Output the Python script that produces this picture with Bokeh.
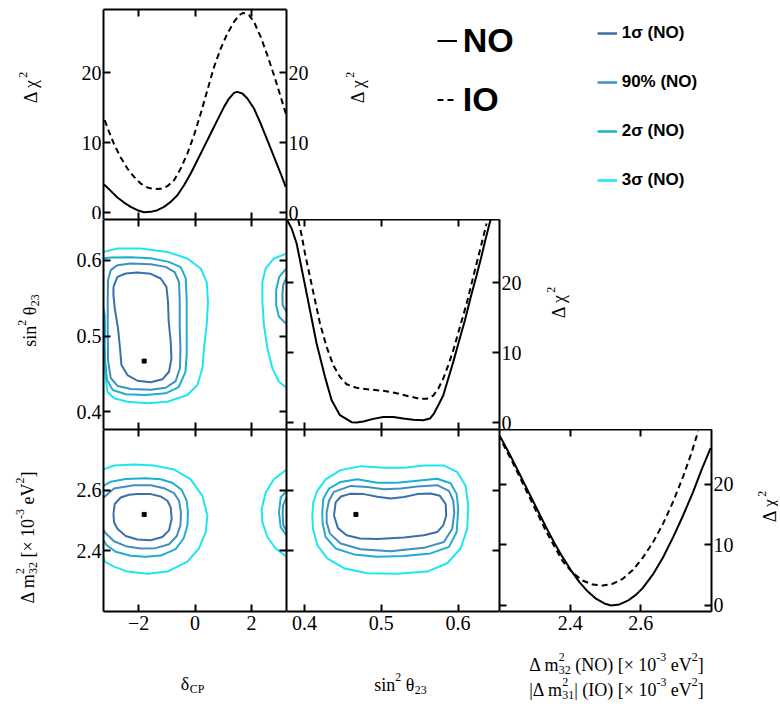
import math
from bokeh.plotting import figure
from bokeh.models import Range1d, LinearAxis, FixedTicker, Label, Legend, LegendItem
from bokeh.layouts import column, row
from bokeh.embed import file_html
from bokeh.resources import INLINE

# ---------------- data ----------------
# 1D: delta_CP profile
dcp_no_x = [-3.220, -2.984, -2.748, -2.512, -2.276, -2.040, -1.804, -1.568, -1.332, -1.096, -0.860, -0.624, -0.388, -0.152, 0.084,
            0.320, 0.556, 0.792, 1.028, 1.205, 1.382, 1.500, 1.677, 1.854, 2.090, 2.326, 2.562, 2.798, 3.034, 3.211]
dcp_no_y = [4.00, 3.09, 2.14, 1.42, 0.80, 0.33, 0.04, 0.09, 0.33, 0.80, 1.52, 2.47, 3.90, 5.57, 7.47,
            9.38, 11.28, 13.19, 15.09, 16.28, 17.09, 17.23, 17.00, 16.28, 14.85, 12.71, 10.33, 7.95, 5.57, 3.66]
dcp_io_x = [-3.196, -3.043, -2.866, -2.630, -2.394, -2.158, -1.922, -1.686, -1.450, -1.214, -0.978, -0.742, -0.506, -0.270, -0.034,
            0.202, 0.438, 0.674, 0.910, 1.146, 1.382, 1.559, 1.712, 1.913, 2.090, 2.326, 2.562, 2.798, 3.034, 3.234]
dcp_io_y = [13.19, 11.52, 9.76, 7.85, 6.28, 5.09, 4.14, 3.57, 3.33, 3.38, 3.76, 4.61, 6.28, 8.42, 11.04,
            14.14, 17.47, 20.80, 23.42, 25.57, 27.23, 28.19, 28.52, 28.19, 27.23, 25.09, 22.47, 19.61, 16.52, 13.90]

# 1D: sin^2 theta23 profile
s23_no_x = [0.3776, 0.3833, 0.3898, 0.3985, 0.4072, 0.4158, 0.4267, 0.4354, 0.4462, 0.4614, 0.4679, 0.4766, 0.4896, 0.5026, 0.5157,
            0.5287, 0.5417, 0.5547, 0.5634, 0.5686, 0.5743, 0.5808, 0.5873, 0.5938, 0.6012, 0.6090, 0.6164, 0.6242, 0.6298, 0.6350, 0.6424]
s23_no_y = [28.90, 27.71, 25.57, 20.80, 16.04, 11.28, 6.52, 3.19, 1.04, 0.04, 0.00, 0.14, 0.52, 0.80, 0.80,
            0.57, 0.38, 0.33, 0.57, 1.28, 2.47, 3.90, 6.28, 8.66, 11.61, 14.61, 17.85, 21.04, 23.42, 25.81, 28.99]
s23_io_x = [0.3920, 0.3963, 0.4007, 0.4072, 0.4137, 0.4202, 0.4289, 0.4375, 0.4462, 0.4549, 0.4679, 0.4853, 0.5026, 0.5200,
            0.5374, 0.5504, 0.5591, 0.5677, 0.5743, 0.5808, 0.5873, 0.5938, 0.6025, 0.6112, 0.6198, 0.6285, 0.6372]
s23_io_y = [28.90, 26.76, 24.14, 20.80, 17.47, 14.14, 10.80, 8.19, 6.52, 5.47, 4.95, 4.71, 4.52, 4.19,
            3.71, 3.38, 3.38, 3.85, 4.85, 6.28, 8.19, 10.33, 13.66, 16.99, 20.80, 24.61, 28.42]

# 1D: Delta m^2 profile
dm_no_x = [2.1961, 2.2170, 2.2359, 2.2597, 2.2834, 2.3071, 2.3308, 2.3545, 2.3782, 2.4019, 2.4256, 2.4493, 2.4730, 2.4967, 2.5157,
           2.5394, 2.5631, 2.5868, 2.6058, 2.6342, 2.6627, 2.6911, 2.7196, 2.7480, 2.7718, 2.7974]
dm_no_y = [28.44, 26.22, 24.11, 21.33, 18.56, 15.78, 13.00, 10.39, 8.00, 5.83, 3.89, 2.33, 1.11, 0.33, 0.00,
           0.17, 0.78, 1.78, 2.89, 5.11, 7.89, 11.22, 14.83, 18.72, 22.33, 25.94]
dm_io_x = [2.1961, 2.2359, 2.2834, 2.3308, 2.3782, 2.4066, 2.4351, 2.4635, 2.4920, 2.5204, 2.5489, 2.5773, 2.6058, 2.6342,
           2.6627, 2.6911, 2.7196, 2.7433, 2.7623]
dm_io_y = [28.17, 23.72, 18.00, 12.33, 7.33, 5.39, 4.11, 3.44, 3.28, 3.56, 4.39, 5.83, 7.89, 10.39,
           13.44, 17.06, 21.22, 25.11, 28.72]

# 2D: sin^2 theta23 vs delta_CP (NO)
ml_1s_d = [-2.888, -2.747, -2.453, -2.039, -1.568, -1.214, -1.012, -0.956, -0.931, -0.860, -0.835, -0.920, -1.154, -1.568, -2.039,
           -2.393, -2.605, -2.655, -2.726, -2.842, -2.888]
ml_1s_s = [0.5650, 0.5782, 0.5827, 0.5840, 0.5822, 0.5761, 0.5650, 0.5453, 0.5189, 0.4925, 0.4706, 0.4529, 0.4429, 0.4389, 0.4410,
           0.4485, 0.4617, 0.4838, 0.5102, 0.5365, 0.5541]
ml_90_d = [-3.080, -2.984, -2.747, -2.276, -1.568, -1.037, -0.719, -0.566, -0.542, -0.542, -0.517, -0.531, -0.683, -1.037, -1.568,
           -2.276, -2.736, -2.984, -3.080, -3.090, -3.090]
ml_90_s = [0.5739, 0.5871, 0.5937, 0.5959, 0.5950, 0.5914, 0.5844, 0.5712, 0.5475, 0.5145, 0.4815, 0.4578, 0.4406, 0.4318, 0.4292,
           0.4301, 0.4340, 0.4446, 0.4683, 0.5079, 0.5475]
ml_2s_d = [-3.242, -2.984, -2.276, -1.568, -0.931, -0.506, -0.329, -0.294, -0.294, -0.294, -0.340, -0.577, -1.037, -1.745, -2.453,
           -2.913, -3.115, -3.186, -3.197, -3.186, -3.197, -3.242]
ml_2s_s = [0.6025, 0.6038, 0.6042, 0.6029, 0.5980, 0.5910, 0.5765, 0.5475, 0.5079, 0.4749, 0.4525, 0.4327, 0.4244, 0.4222, 0.4231,
           0.4288, 0.4420, 0.4683, 0.4881, 0.5079, 0.5277, 0.5369]
ml_3s_d = [-3.242, -2.747, -1.922, -0.977, -0.269, 0.202, 0.414, 0.460, 0.414, 0.319, 0.262, 0.085, -0.269, -0.977, -1.685,
           -2.393, -2.867, -3.101, -3.172, -3.196, -3.242]
ml_3s_s = [0.6112, 0.6157, 0.6157, 0.6112, 0.6025, 0.5893, 0.5716, 0.5453, 0.5145, 0.4838, 0.4574, 0.4354, 0.4222, 0.4133, 0.4112,
           0.4133, 0.4178, 0.4265, 0.4485, 0.4815, 0.4900]
ml_3s_r_d = [3.242, 2.796, 2.503, 2.386, 2.386, 2.442, 2.563, 2.740, 2.973, 3.242]
ml_3s_r_s = [0.6091, 0.6025, 0.5893, 0.5716, 0.5453, 0.5145, 0.4838, 0.4574, 0.4397, 0.4318]
ml_2s_r_d = [3.242, 2.981, 2.874, 2.874, 2.973, 3.242]
ml_2s_r_s = [0.5897, 0.5782, 0.5607, 0.5409, 0.5255, 0.5158]
ml_90_r_d = [3.242, 3.122, 3.094, 3.104, 3.242]
ml_90_r_s = [0.5778, 0.5673, 0.5541, 0.5409, 0.5317]

# 2D: Delta m^2 vs delta_CP (NO)
bl_1s_d = [-2.888, -2.842, -2.630, -2.336, -2.039, -1.568, -1.214, -0.977, -0.860, -0.825, -0.920, -1.154, -1.568, -2.039, -2.453,
           -2.747, -2.867]
bl_1s_m = [2.5218, 2.5544, 2.5759, 2.5847, 2.5870, 2.5870, 2.5792, 2.5651, 2.5433, 2.5055, 2.4674, 2.4456, 2.4349, 2.4371, 2.4489,
           2.4730, 2.4945]
bl_90_d = [-3.242, -2.867, -2.159, -1.568, -1.097, -0.743, -0.566, -0.496, -0.517, -0.648, -0.920, -1.391, -1.922, -2.453, -2.867,
           -3.126, -3.242]
bl_90_m = [2.5749, 2.6052, 2.6163, 2.6163, 2.6065, 2.5902, 2.5651, 2.5261, 2.4837, 2.4479, 2.4218, 2.4088, 2.4078, 2.4153, 2.4316,
           2.4544, 2.4674]
bl_2s_d = [-3.242, -2.984, -2.453, -1.745, -1.214, -0.789, -0.471, -0.294, -0.248, -0.269, -0.400, -0.683, -1.214, -1.745, -2.276,
           -2.807, -3.126, -3.242]
bl_2s_m = [2.6140, 2.6280, 2.6368, 2.6391, 2.6358, 2.6238, 2.6010, 2.5651, 2.5261, 2.4837, 2.4414, 2.4055, 2.3844, 2.3805, 2.3837,
           2.3967, 2.4186, 2.4349]
bl_3s_d = [-3.242, -2.867, -2.159, -1.451, -0.743, -0.152, 0.262, 0.439, 0.379, 0.142, -0.269, -0.977, -1.685, -2.393, -2.867,
           -3.197, -3.242]
bl_3s_m = [2.6684, 2.6814, 2.6847, 2.6814, 2.6684, 2.6358, 2.5814, 2.5163, 2.4619, 2.4078, 2.3642, 2.3316, 2.3241, 2.3316, 2.3479,
           2.3642, 2.3805]
bl_3s_r_d = [3.242, 2.796, 2.503, 2.361, 2.386, 2.563, 2.857, 3.242]
bl_3s_r_m = [2.6684, 2.6358, 2.5922, 2.5381, 2.4945, 2.4456, 2.4078, 2.3805]
bl_2s_r_d = [3.242, 3.034, 2.973, 3.034, 3.242]
bl_2s_r_m = [2.5977, 2.5759, 2.5270, 2.4782, 2.4511]
bl_90_r_d = [3.242, 3.115, 3.104, 3.129, 3.242]
bl_90_r_m = [2.5759, 2.5489, 2.5163, 2.4837, 2.4674]

# 2D: Delta m^2 vs sin^2 theta23 (NO)
bm_1s_s = [0.4384, 0.4406, 0.4475, 0.4592, 0.4775, 0.4948, 0.5122, 0.5296, 0.5469, 0.5643, 0.5764, 0.5839, 0.5846, 0.5807, 0.5729,
           0.5556, 0.5296, 0.4948, 0.4723, 0.4549, 0.4436]
bm_1s_m = [2.5163, 2.5596, 2.5792, 2.5879, 2.5870, 2.5782, 2.5726, 2.5772, 2.5870, 2.5889, 2.5814, 2.5544, 2.5163, 2.4837, 2.4619,
           2.4511, 2.4436, 2.4391, 2.4404, 2.4511, 2.4749]
bm_90_s = [0.4289, 0.4319, 0.4384, 0.4602, 0.4818, 0.5035, 0.5253, 0.5469, 0.5729, 0.5882, 0.5938, 0.5951, 0.5925, 0.5816, 0.5556,
           0.5122, 0.4732, 0.4471, 0.4332, 0.4289]
bm_90_m = [2.5270, 2.5651, 2.5945, 2.6140, 2.6107, 2.6033, 2.6052, 2.6117, 2.6163, 2.5977, 2.5651, 2.5270, 2.4730, 2.4293, 2.4098,
           2.3990, 2.4055, 2.4241, 2.4567, 2.4945]
bm_2s_s = [0.4232, 0.4245, 0.4319, 0.4471, 0.4687, 0.4948, 0.5208, 0.5469, 0.5729, 0.5904, 0.5982, 0.6003, 0.5982, 0.5882, 0.5643,
           0.5296, 0.4948, 0.4645, 0.4406, 0.4276, 0.4237]
bm_2s_m = [2.5270, 2.5707, 2.6052, 2.6270, 2.6358, 2.6248, 2.6248, 2.6313, 2.6378, 2.6228, 2.5870, 2.5381, 2.4619, 2.4130, 2.3915,
           2.3827, 2.3804, 2.3883, 2.4078, 2.4456, 2.4892]
bm_3s_s = [0.4102, 0.4115, 0.4167, 0.4276, 0.4471, 0.4732, 0.5035, 0.5296, 0.5556, 0.5816, 0.5990, 0.6099, 0.6133, 0.6120, 0.6034,
           0.5859, 0.5599, 0.5208, 0.4818, 0.4514, 0.4297, 0.4167, 0.4111]
bm_3s_m = [2.5163, 2.5596, 2.5977, 2.6358, 2.6661, 2.6792, 2.6736, 2.6736, 2.6814, 2.6814, 2.6596, 2.6140, 2.5489, 2.4730, 2.4078,
           2.3590, 2.3316, 2.3241, 2.3264, 2.3427, 2.3752, 2.4186, 2.4730]

# best fit point (NO)
best_dcp = [-1.80]
best_s23 = [0.467]
best_dm = [2.52]

# axis ranges / ticks
DCP_RANGE = (-3.24, 3.24)
S23_RANGE = (0.3766, 0.654)
DM_RANGE = (2.2, 2.8)
CHI_RANGE = (-1.0, 29.0)
DCP_TICKS = [-2, 0, 2]
S23_TICKS = [0.4, 0.5, 0.6]
DM_TICKS = [2.4, 2.6]
CHI_TICKS = [0, 10, 20]
DCP_LABELS = {-2: "\u22122"}

legend_main = ["NO", "IO"]
legend_levels = ["1\u03c3 (NO)", "90% (NO)", "2\u03c3 (NO)", "3\u03c3 (NO)"]

# ---------------- styling ----------------
SERIF = "Liberation Serif"
SANS = "Liberation Sans"
C1S, C90, C2S, C3S = "#3c6eaa", "#3f90c0", "#20aece", "#1ee6f0"
TICK_FS = "20px"
TITLE_FS = 18
DASH = "6 4"
NAN = float("nan")


def base_fig(w, h, xr=None, yr=None, left=0, right=0, top=0, bottom=0):
    p = figure(width=w, height=h,
               x_range=Range1d(*(xr if xr else (0, w))), y_range=Range1d(*(yr if yr else (0, h))),
               x_axis_type=None, y_axis_type=None, toolbar_location=None,
               output_backend="svg", title=None,
               min_border_left=left, min_border_right=right,
               min_border_top=top, min_border_bottom=bottom)
    p.outline_line_color = None
    p.background_fill_color = "white"
    p.border_fill_color = "white"
    return p


def add_axes(p, xticks, yticks, labeled, xover=None, yover=None):
    for side in ("below", "above", "left", "right"):
        if side in ("below", "above"):
            ax = LinearAxis(ticker=FixedTicker(ticks=xticks))
            over = xover
        else:
            ax = LinearAxis(ticker=FixedTicker(ticks=yticks))
            over = yover
        ax.axis_line_width = 2
        ax.axis_line_color = "black"
        ax.major_tick_in = 7
        ax.major_tick_out = 0
        ax.major_tick_line_width = 2
        ax.major_tick_line_color = "black"
        ax.minor_tick_in = 0
        ax.minor_tick_out = 0
        ax.major_label_text_font = SERIF
        ax.major_label_text_font_size = TICK_FS
        ax.major_label_text_color = "black"
        ax.major_label_standoff = 2 if side in ("left", "right") else 4
        if side in labeled:
            if over:
                ax.major_label_overrides = over
        else:
            ax.major_label_text_color = None
            ax.major_label_standoff = 0
        p.add_layout(ax, side)


# approximate Times/Liberation Serif advance widths (em)
W = {' ': 0.25, '\u0394': 0.612, '\u03c7': 0.549, 'm': 0.778, 's': 0.389, 'i': 0.278, 'n': 0.5, '\u03b8': 0.5,
     '[': 0.333, ']': 0.333, '\u00d7': 0.564, '0': 0.5, '1': 0.5, '2': 0.5, '3': 0.5, '-': 0.333, 'e': 0.444,
     'V': 0.722, '(': 0.333, ')': 0.333, 'N': 0.722, 'O': 0.722, 'I': 0.333, '|': 0.2, '\u03b4': 0.5,
     'C': 0.667, 'P': 0.556}


def tw(s, size):
    return sum(W.get(c, 0.5) for c in s) * size


def rich(p, pieces, cx, cy, size=TITLE_FS, angle=0.0):
    small = size * 0.66

    def adv(pc):
        if pc[0] == "n":
            return tw(pc[1], size)
        if pc[0] in ("sup", "sub"):
            return tw(pc[1], small)
        return max(tw(pc[1], small), tw(pc[2], small))

    total = sum(adv(pc) for pc in pieces)
    d = (math.cos(angle), math.sin(angle))
    nv = (-math.sin(angle), math.cos(angle))
    base = -0.32 * size
    a = -total / 2.0
    for pc in pieces:
        k = pc[0]
        if k == "n":
            items = [(pc[1], size, 0.0)]
        elif k == "sup":
            items = [(pc[1], small, 0.45 * size)]
        elif k == "sub":
            items = [(pc[1], small, -0.25 * size)]
        else:
            items = [(pc[1], small, 0.45 * size), (pc[2], small, -0.27 * size)]
        for text, fs, off in items:
            lead = len(text) - len(text.lstrip(" "))
            a0 = a + tw(" " * lead, fs)
            u = base + off
            x = cx + a0 * d[0] + u * nv[0]
            y = cy + a0 * d[1] + u * nv[1]
            p.add_layout(Label(x=x, y=y, x_units="screen", y_units="screen", text=text.strip(" "),
                               angle=angle, text_font=SERIF, text_font_size="%.1fpx" % fs,
                               text_align="left", text_baseline="alphabetic", text_color="black"))
        a += adv(pc)


def line_c(p, xs, ys, color, closed=False):
    xs, ys = list(xs), list(ys)
    if closed:
        xs = xs + xs[:1]
        ys = ys + ys[:1]
    return p.line(xs, ys, line_color=color, line_width=2)


DCHI = [("n", "\u0394 \u03c7"), ("sup", "2")]
SIN23 = [("n", "sin"), ("sup", "2"), ("n", " \u03b8"), ("sub", "23")]
DM32 = [("n", "\u0394 m"), ("ss", "2", "32"), ("n", " [\u00d7 10"), ("sup", "-3"), ("n", " eV"), ("sup", "2"), ("n", "]")]
DCP = [("n", "\u03b4"), ("sub", "CP")]
DM_NO = [("n", "\u0394 m"), ("ss", "2", "32"), ("n", " (NO) [\u00d7 10"), ("sup", "-3"), ("n", " eV"), ("sup", "2"), ("n", "]")]
DM_IO = [("n", "|\u0394 m"), ("ss", "2", "31"), ("n", "| (IO) [\u00d7 10"), ("sup", "-3"), ("n", " eV"), ("sup", "2"), ("n", "]")]

ROT = math.pi / 2
TOTAL_H = 704
H1, H2, H3 = 219, 210, 213

# ---------------- left title strip ----------------
tL = base_fig(63, TOTAL_H)
rich(tL, DCHI, 25, TOTAL_H - 87, angle=ROT)
rich(tL, SIN23, 24, TOTAL_H - 320, angle=ROT)
rich(tL, DM32, 22, TOTAL_H - 537, angle=ROT)

# ---------------- row 1: delta_CP profile + legends ----------------
pA = base_fig(251, H1, DCP_RANGE, CHI_RANGE, 40, 28, 9, 0)
add_axes(pA, DCP_TICKS, CHI_TICKS, ("left", "right"))
pA.line(dcp_no_x, dcp_no_y, line_color="black", line_width=2)
pA.line(dcp_io_x, dcp_io_y, line_color="black", line_width=2, line_dash=DASH)

tR1 = base_fig(464, H1)
rich(tR1, DCHI, 38, H1 - 87, angle=ROT)
k_no = tR1.line(x=[NAN, NAN], y=[NAN, NAN], line_color="black", line_width=2)
k_io = tR1.line(x=[NAN, NAN], y=[NAN, NAN], line_color="black", line_width=2, line_dash=DASH)
leg1 = Legend(items=[LegendItem(label=legend_main[0], renderers=[k_no]),
                     LegendItem(label=legend_main[1], renderers=[k_io])],
              location=(122.7, 100), orientation="vertical", padding=0, margin=0, spacing=20,
              glyph_width=20, glyph_height=39, label_height=39, label_standoff=6,
              label_text_font=SANS, label_text_font_style="bold", label_text_font_size="34px",
              label_text_color="black", border_line_color=None, background_fill_alpha=0)
tR1.add_layout(leg1, "center")
dummy = [tR1.line(x=[NAN, NAN], y=[NAN, NAN], line_color=col, line_width=2.5) for col in (C1S, C90, C2S, C3S)]
leg2 = Legend(items=[LegendItem(label=lab, renderers=[r]) for lab, r in zip(legend_levels, dummy)],
              location=(282.7, 28.7), orientation="vertical", padding=0, margin=0, spacing=29,
              glyph_width=20, glyph_height=20, label_height=20, label_standoff=5,
              label_text_font=SANS, label_text_font_style="bold", label_text_font_size="17px",
              label_text_color="black", border_line_color=None, background_fill_alpha=0)
tR1.add_layout(leg2, "center")

# ---------------- row 2 ----------------
pB = base_fig(223, H2, DCP_RANGE, S23_RANGE, 40, 0, 0, 0)
add_axes(pB, DCP_TICKS, S23_TICKS, ("left",))
line_c(pB, ml_3s_d, ml_3s_s, C3S)
line_c(pB, ml_3s_r_d, ml_3s_r_s, C3S)
line_c(pB, ml_2s_d, ml_2s_s, C2S)
line_c(pB, ml_2s_r_d, ml_2s_r_s, C2S)
line_c(pB, ml_90_d, ml_90_s, C90, closed=True)
line_c(pB, ml_90_r_d, ml_90_r_s, C90)
line_c(pB, ml_1s_d, ml_1s_s, C1S, closed=True)
pB.scatter(best_dcp, best_s23, marker="square", size=4, color="black")

pC = base_fig(241, H2, S23_RANGE, CHI_RANGE, 0, 28, 0, 0)
add_axes(pC, S23_TICKS, CHI_TICKS, ("right",))
pC.line(s23_no_x, s23_no_y, line_color="black", line_width=2)
pC.line(s23_io_x, s23_io_y, line_color="black", line_width=2, line_dash=DASH)

tR2 = base_fig(251, H2)
rich(tR2, DCHI, 26, 127, angle=ROT)

# ---------------- row 3 ----------------
pD = base_fig(223, H3, DCP_RANGE, DM_RANGE, 40, 0, 0, 31)
add_axes(pD, DCP_TICKS, DM_TICKS, ("left", "below"), xover=DCP_LABELS)
line_c(pD, bl_3s_d, bl_3s_m, C3S)
line_c(pD, bl_3s_r_d, bl_3s_r_m, C3S)
line_c(pD, bl_2s_d, bl_2s_m, C2S)
line_c(pD, bl_2s_r_d, bl_2s_r_m, C2S)
line_c(pD, bl_90_d, bl_90_m, C90)
line_c(pD, bl_90_r_d, bl_90_r_m, C90)
line_c(pD, bl_1s_d, bl_1s_m, C1S, closed=True)
pD.scatter(best_dcp, best_dm, marker="square", size=4, color="black")

pE = base_fig(213, H3, S23_RANGE, DM_RANGE, 0, 0, 0, 31)
add_axes(pE, S23_TICKS, DM_TICKS, ("below",))
line_c(pE, bm_3s_s, bm_3s_m, C3S, closed=True)
line_c(pE, bm_2s_s, bm_2s_m, C2S, closed=True)
line_c(pE, bm_90_s, bm_90_m, C90, closed=True)
line_c(pE, bm_1s_s, bm_1s_m, C1S, closed=True)
pE.scatter(best_s23, best_dm, marker="square", size=4, color="black")

pF = base_fig(240, H3, DM_RANGE, CHI_RANGE, 0, 28, 0, 31)
add_axes(pF, DM_TICKS, CHI_TICKS, ("below", "right"))
pF.line(dm_no_x, dm_no_y, line_color="black", line_width=2)
pF.line(dm_io_x, dm_io_y, line_color="black", line_width=2, line_dash=DASH)

tR3 = base_fig(39, H3)
rich(tR3, DCHI, 25, 105, angle=ROT)

# ---------------- bottom title strip ----------------
HB = TOTAL_H - H1 - H2 - H3
tB = base_fig(715, HB)
rich(tB, DCP, 129, 26)
rich(tB, SIN23, 337, 25)
rich(tB, DM_NO, 553, 45)
rich(tB, DM_IO, 553, 20)

right_part = column(row(pA, tR1), row(pB, pC, tR2), row(pD, pE, pF, tR3), tB)
layout = row(tL, right_part)

with open("out.html", "w") as f:
    f.write(file_html(layout, INLINE))
